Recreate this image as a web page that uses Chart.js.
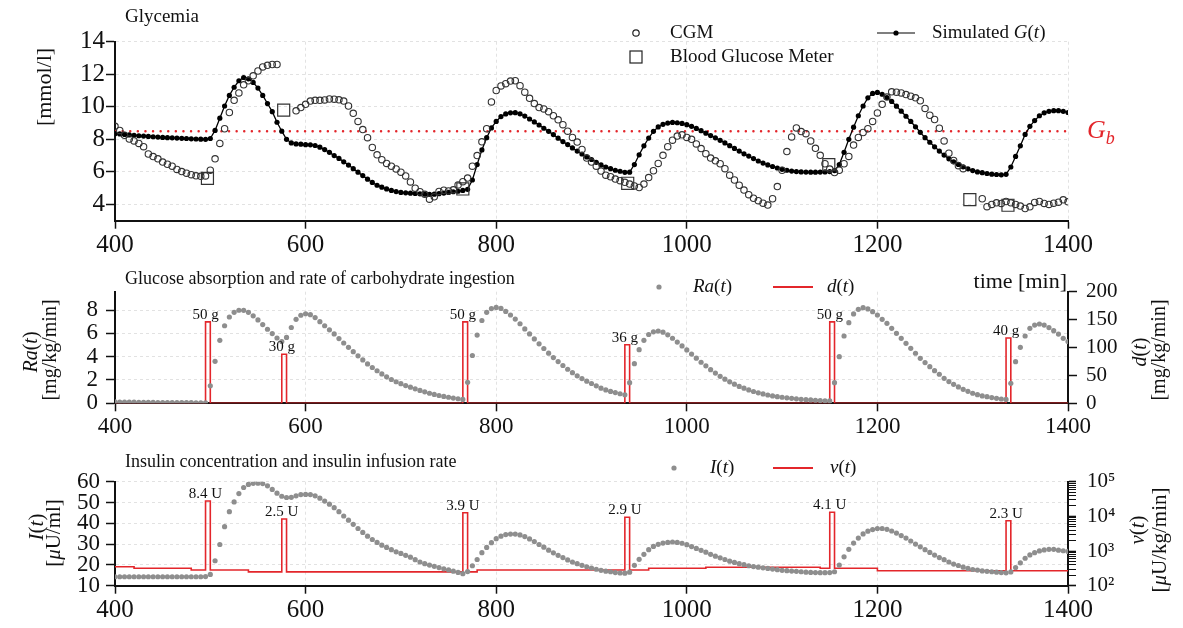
<!DOCTYPE html>
<html>
<head>
<meta charset="utf-8">
<script src="https://cdn.jsdelivr.net/npm/chart.js@4"></script>
<style>
  html, body { margin: 0; padding: 0; background: #fff; }
  #wrap { position: relative; width: 1183px; height: 628px; }
  canvas { position: absolute; left: 0; }
</style>
</head>
<body>
<div id="wrap">
  <canvas id="glyc" width="1183" height="262" style="top:0"></canvas>
  <canvas id="absorb" width="1183" height="172" style="top:262px"></canvas>
  <canvas id="insulin" width="1183" height="194" style="top:434px"></canvas>
</div>
<script>
// time grid of the samples [min]
const tStart = 400, tStep = 5, xMin = 400, xMax = 1400;
const xTicks = [400, 600, 800, 1000, 1200, 1400];

// Glycemia [mmol/l]
const simG = [
  8.35, 8.33, 8.30, 8.27, 8.25, 8.22, 8.20, 8.18, 8.16, 8.14, 8.12, 8.10, 8.09, 8.08, 8.06, 8.05, 8.03, 8.02, 8.01, 8.00,
  8.05, 8.55, 9.30, 10.05, 10.70, 11.20, 11.60, 11.80, 11.72, 11.50, 11.15, 10.70, 10.20, 9.70, 9.05, 8.50, 8.00, 7.78, 7.72, 7.70,
  7.67, 7.66, 7.62, 7.52, 7.37, 7.20, 7.00, 6.83, 6.62, 6.42, 6.20, 5.98, 5.77, 5.55, 5.35, 5.18, 5.06, 4.95, 4.86, 4.79,
  4.74, 4.71, 4.69, 4.67, 4.65, 4.63, 4.62, 4.63, 4.66, 4.70, 4.74, 4.78, 4.81, 4.86, 4.93, 5.50, 6.45, 7.35, 8.10, 8.70,
  9.10, 9.40, 9.56, 9.63, 9.64, 9.57, 9.43, 9.25, 9.07, 8.88, 8.68, 8.49, 8.29, 8.07, 7.86, 7.68, 7.47, 7.28, 7.10, 6.92,
  6.76, 6.59, 6.43, 6.30, 6.20, 6.10, 6.04, 5.97, 5.98, 6.45, 7.05, 7.60, 8.08, 8.49, 8.76, 8.92, 9.00, 9.04, 9.02, 8.98,
  8.90, 8.80, 8.67, 8.53, 8.38, 8.23, 8.09, 7.94, 7.78, 7.61, 7.44, 7.28, 7.11, 6.97, 6.82, 6.67, 6.54, 6.43, 6.33, 6.24,
  6.16, 6.10, 6.05, 6.02, 6.00, 5.99, 5.98, 5.98, 5.99, 6.00, 6.02, 6.08, 6.45, 7.20, 8.00, 8.75, 9.45, 10.05, 10.55, 10.82,
  10.88, 10.77, 10.57, 10.33, 10.04, 9.73, 9.42, 9.10, 8.77, 8.43, 8.10, 7.82, 7.54, 7.28, 7.03, 6.80, 6.62, 6.46, 6.31, 6.19,
  6.08, 6.00, 5.95, 5.90, 5.86, 5.84, 5.82, 5.85, 6.30, 6.95, 7.60, 8.30, 8.80, 9.15, 9.45, 9.63, 9.72, 9.76, 9.76, 9.72,
  9.65
];
const cgm = [
  8.80, 8.55, 8.25, 8.02, 7.90, 7.75, 7.55, 7.10, 6.94, 6.80, 6.60, 6.47, 6.35, 6.15, 6.02, 5.92, 5.83, 5.76, 5.73, 5.75,
  6.10, 6.80, 7.75, 8.65, 9.65, 10.40, 10.85, 11.35, 11.60, 11.90, 12.20, 12.45, 12.55, 12.60, 12.60, null, null, null, 9.75, 9.95,
  10.15, 10.35, 10.40, 10.40, 10.42, 10.48, 10.47, 10.43, 10.35, 10.05, 9.60, 9.10, 8.60, 8.10, 7.50, 7.05, 6.75, 6.52, 6.35, 6.18,
  5.98, 5.75, 5.38, 5.00, 4.78, 4.62, 4.32, 4.47, 4.80, 4.87, 4.83, 4.90, 5.20, 5.40, 5.62, 6.35, 7.00, 7.85, 8.65, 10.30,
  11.00, 11.28, 11.42, 11.58, 11.60, 11.30, 10.90, 10.52, 10.20, 9.95, 9.87, 9.70, 9.45, 9.20, 8.90, 8.50, 8.12, 7.83, 7.38, 6.85,
  6.60, 6.35, 6.05, 5.80, 5.70, 5.56, 5.46, 5.36, 5.25, 5.14, 5.04, 5.25, 5.65, 6.07, 6.52, 7.02, 7.55, 7.95, 8.20, 8.28,
  8.12, 8.00, 7.72, 7.43, 7.12, 6.85, 6.68, 6.50, 6.20, 5.80, 5.50, 5.18, 4.88, 4.60, 4.38, 4.23, 4.08, 3.96, 4.35, 5.10,
  6.10, 7.25, 8.15, 8.70, 8.48, 8.35, 7.90, 7.45, 7.02, 6.50, 6.17, 5.96, 6.10, 6.50, 6.95, 7.65, 8.12, 8.42, 8.65, 9.10,
  9.62, 10.15, 10.60, 10.92, 10.90, 10.85, 10.75, 10.65, 10.55, 10.37, 9.90, 9.48, 9.22, 8.68, 7.90, 7.15, 6.70, 6.38, 6.20, null,
  null, null, 4.35, 3.86, 4.00, 4.10, 4.06, 4.18, 4.10, 4.00, 3.90, 3.75, 3.85, 4.12, 4.18, 4.06, 4.00, 4.08, 4.14, 4.28,
  4.16
];
const bgmTime = [497, 577, 765, 938, 1149, 1297, 1337];
const bgmValue = [5.6, 9.8, 4.95, 5.3, 6.45, 4.3, 3.95];
const Gb = 8.5;
const glyTicks = [4, 6, 8, 10, 12, 14];

// glucose absorption Ra(t) [mg/kg/min] and meals d(t)
const raRate = [
  0.12, 0.11, 0.11, 0.10, 0.10, 0.09, 0.09, 0.08, 0.08, 0.07, 0.07, 0.06, 0.06, 0.06, 0.05, 0.05, 0.05, 0.04, 0.04, 0.04,
  1.50, 3.60, 5.40, 6.65, 7.40, 7.80, 7.98, 7.97, 7.80, 7.50, 7.15, 6.75, 6.35, 5.98, 5.60, 5.30, 5.65, 6.50, 7.20, 7.55,
  7.68, 7.60, 7.35, 7.00, 6.65, 6.30, 5.95, 5.55, 5.17, 4.80, 4.43, 4.07, 3.72, 3.38, 3.07, 2.79, 2.52, 2.27, 2.04, 1.85,
  1.68, 1.52, 1.38, 1.24, 1.10, 0.98, 0.86, 0.76, 0.67, 0.59, 0.52, 0.45, 0.39, 0.33, 1.80, 4.10, 5.85, 7.10, 7.80, 8.12,
  8.22, 8.14, 7.88, 7.57, 7.22, 6.82, 6.38, 5.95, 5.52, 5.10, 4.70, 4.30, 3.92, 3.58, 3.24, 2.92, 2.63, 2.36, 2.12, 1.90,
  1.70, 1.50, 1.30, 1.15, 1.02, 0.92, 0.82, 0.73, 1.77, 3.40, 4.60, 5.40, 5.90, 6.13, 6.20, 6.10, 5.87, 5.58, 5.25, 4.92,
  4.58, 4.22, 3.87, 3.52, 3.21, 2.88, 2.59, 2.31, 2.07, 1.84, 1.64, 1.45, 1.30, 1.15, 1.01, 0.90, 0.80, 0.71, 0.63, 0.57,
  0.52, 0.47, 0.43, 0.38, 0.34, 0.31, 0.29, 0.26, 0.23, 0.21, 0.20, 1.77, 4.00, 5.77, 6.91, 7.66, 8.06, 8.20, 8.09, 7.86,
  7.57, 7.20, 6.86, 6.43, 6.00, 5.57, 5.14, 4.71, 4.29, 3.86, 3.49, 3.14, 2.80, 2.49, 2.14, 1.86, 1.63, 1.40, 1.20, 1.03,
  0.86, 0.74, 0.63, 0.57, 0.49, 0.43, 0.37, 0.33, 1.71, 3.57, 4.80, 5.77, 6.43, 6.71, 6.80, 6.71, 6.49, 6.23, 5.94, 5.57,
  5.29
];
const mealTime = [495, 575, 765, 935, 1150, 1335];
const mealRate = [146, 88, 146, 105, 146, 117];
const mealGrams = ['50 g', '30 g', '50 g', '36 g', '50 g', '40 g'];
const raTicks = [0, 2, 4, 6, 8];
const dTicks = [0, 50, 100, 150, 200];

// insulin I(t) [µU/ml] and infusion v(t) [µU/kg/min]
const insulin = [
  14.3, 14.3, 14.3, 14.3, 14.3, 14.3, 14.3, 14.3, 14.3, 14.3, 14.3, 14.3, 14.3, 14.3, 14.3, 14.3, 14.3, 14.3, 14.3, 14.4,
  15.4, 22.0, 29.8, 38.4, 45.6, 50.3, 54.3, 57.2, 58.7, 59.2, 59.3, 59.1, 58.0, 56.3, 54.5, 53.0, 52.4, 52.5, 53.2, 53.8,
  53.9, 53.8, 53.2, 52.1, 50.7, 49.2, 47.5, 45.6, 43.5, 41.5, 39.5, 37.5, 35.6, 33.8, 32.2, 30.8, 29.5, 28.4, 27.3, 26.3,
  25.5, 24.6, 23.7, 22.5, 21.4, 20.6, 19.9, 19.3, 18.7, 18.1, 17.6, 17.0, 16.4, 15.8, 16.8, 19.6, 22.6, 25.9, 28.4, 30.7,
  32.6, 33.8, 34.6, 34.8, 34.8, 34.4, 33.6, 32.5, 31.2, 29.8, 28.5, 27.1, 25.8, 24.6, 23.5, 22.4, 21.4, 20.6, 19.8, 19.1,
  18.5, 17.9, 17.4, 17.0, 16.7, 16.3, 16.1, 16.0, 16.5, 19.8, 22.7, 25.1, 27.3, 28.9, 29.9, 30.5, 30.8, 31.0, 30.8, 30.4,
  29.7, 28.8, 27.9, 27.0, 26.1, 25.1, 24.2, 23.4, 22.6, 21.8, 21.2, 20.6, 20.1, 19.6, 19.2, 18.9, 18.6, 18.3, 18.0, 17.7,
  17.4, 17.2, 17.05, 16.9, 16.7, 16.5, 16.4, 16.3, 16.25, 16.25, 16.3, 16.7, 19.9, 23.9, 27.5, 30.5, 32.9, 34.9, 36.2, 37.0,
  37.5, 37.5, 37.1, 36.3, 35.3, 34.1, 32.9, 31.5, 30.0, 28.7, 27.3, 26.0, 24.7, 23.5, 22.5, 21.4, 20.4, 19.7, 18.9, 18.3,
  17.8, 17.5, 17.1, 16.9, 16.7, 16.5, 16.3, 16.2, 16.6, 18.7, 21.0, 23.2, 24.8, 25.9, 26.7, 27.2, 27.5, 27.5, 27.1, 26.8,
  26.5
];
const basalTime = [400, 420, 480, 540, 780, 960, 1020, 1140, 1200];
const basalRate = [353, 318, 284, 250, 284, 318, 340, 318, 270];
const bolusTime = [495, 575, 765, 935, 1150, 1335];
const bolusRate = [27700, 8400, 12700, 9400, 13100, 7500];
const bolusUnits = ['8.4 U', '2.5 U', '3.9 U', '2.9 U', '4.1 U', '2.3 U'];
const insTicks = [10, 20, 30, 40, 50, 60];
const logDecades = [100, 1000, 10000];
const logTop = 100000;
const pulseLen = 5;

const serif = '"Liberation Serif", "Times New Roman", serif';
const red = '#e3262b';
const grey = '#8e8e8e';
Chart.defaults.font.family = serif;
Chart.defaults.color = '#111';
Chart.defaults.animation = false;

function series(values) {
  return values.map((v, i) => ({ x: tStart + i * tStep, y: v }));
}
// step function: a basal level with short rectangular pulses on top
function pulses(levelT, levelV, pulseT, pulseV) {
  const level = t => { let v = levelV[0]; levelT.forEach((lt, k) => { if (t >= lt) v = levelV[k]; }); return v; };
  const value = t => { const k = pulseT.findIndex(p => t >= p && t < p + pulseLen); return k >= 0 ? pulseV[k] : level(t); };
  const ts = [...new Set([...levelT, ...pulseT, ...pulseT.map(p => p + pulseLen), xMax])].sort((a, b) => a - b);
  return ts.map(t => ({ x: t, y: value(t) }));
}

// free text, legend markers and value labels
function fontOf(st, size) {
  if (st === 'sub') return 'italic ' + Math.round(size * 0.68) + 'px ' + serif;
  return (st === 'i' ? 'italic ' : '') + size + 'px ' + serif;
}
function drawRuns(ctx, it) {
  const runs = typeof it.text === 'string' ? [[it.text, '']] : it.text;
  let total = 0;
  runs.forEach(([s, st]) => { ctx.font = fontOf(st, it.size); total += ctx.measureText(s).width; });
  ctx.translate(it.x, it.y);
  if (it.rotate) ctx.rotate(-Math.PI / 2);
  let x = it.align === 'center' ? -total / 2 : it.align === 'right' ? -total : 0;
  ctx.fillStyle = it.color || '#111';
  ctx.textBaseline = 'middle';
  ctx.textAlign = 'left';
  runs.forEach(([s, st]) => {
    ctx.font = fontOf(st, it.size);
    ctx.fillText(s, x, st === 'sub' ? it.size * 0.3 : 0);
    x += ctx.measureText(s).width;
  });
}
function drawMarker(ctx, m) {
  ctx.lineWidth = m.lw || 1.2;
  ctx.strokeStyle = m.color || '#222';
  ctx.fillStyle = m.color || '#222';
  if (m.marker === 'circle') {
    ctx.beginPath(); ctx.arc(m.x, m.y, m.r, 0, 2 * Math.PI); ctx.stroke();
  } else if (m.marker === 'square') {
    ctx.strokeRect(m.x - m.r, m.y - m.r, 2 * m.r, 2 * m.r);
  } else if (m.marker === 'dot') {
    ctx.beginPath(); ctx.arc(m.x, m.y, m.r, 0, 2 * Math.PI); ctx.fill();
  } else if (m.marker === 'line') {
    ctx.beginPath(); ctx.moveTo(m.x, m.y); ctx.lineTo(m.x2, m.y); ctx.stroke();
    if (m.r) { ctx.beginPath(); ctx.arc((m.x + m.x2) / 2, m.y, m.r, 0, 2 * Math.PI); ctx.fill(); }
  }
}
const panelText = {
  id: 'panelText',
  afterDraw(chart, args, opts) {
    const ctx = chart.ctx;
    (opts.items || []).forEach(it => {
      ctx.save();
      if (it.marker) drawMarker(ctx, it); else drawRuns(ctx, it);
      ctx.restore();
    });
    if (opts.marks) {
      const xs = chart.scales.x, ys = chart.scales[opts.marks.axis];
      ctx.save();
      ctx.font = '15px ' + serif;
      ctx.fillStyle = '#111';
      ctx.textAlign = 'center';
      ctx.textBaseline = 'alphabetic';
      opts.marks.at.forEach((t, i) => {
        ctx.fillText(opts.marks.text[i], xs.getPixelForValue(t), ys.getPixelForValue(opts.marks.value[i]) - 3);
      });
      ctx.restore();
    }
  }
};
Chart.register(panelText);

function xAxis(height, size, pad) {
  return {
    type: 'linear', min: xMin, max: xMax,
    afterBuildTicks: s => { s.ticks = xTicks.map(v => ({ value: v })); },
    afterFit: s => { s.height = height; },
    grid: { color: '#e2e2e2', tickColor: '#111', tickLength: 8, tickWidth: 1.5 },
    border: { color: '#111', width: 2, dash: [3, 3] },
    ticks: { font: { size: size }, padding: pad, maxRotation: 0, autoSkip: false, callback: v => String(v) }
  };
}
function yAxis(min, max, tickList, size, pad, side, withGrid) {
  return {
    type: 'linear', min: min, max: max, position: side,
    afterBuildTicks: s => { s.ticks = tickList.map(v => ({ value: v })); },
    afterFit: s => { s.width = 115; },
    grid: { color: '#e2e2e2', drawOnChartArea: withGrid, tickColor: '#111', tickLength: 9, tickWidth: 1.5 },
    border: { color: '#111', width: 2, dash: [3, 3] },
    ticks: { font: { size: size }, padding: pad, autoSkip: false, callback: v => String(v) }
  };
}
const baseOpts = (padTop, padRight, scales, plugin) => ({
  responsive: false,
  animation: false,
  layout: { padding: { top: padTop, left: 0, right: padRight, bottom: 0 } },
  scales: scales,
  plugins: { legend: { display: false }, tooltip: { enabled: false }, panelText: plugin }
});

// ---- Glycemia ----
new Chart(document.getElementById('glyc'), {
  type: 'line',
  data: {
    datasets: [
      { data: bgmTime.map((t, i) => ({ x: t, y: bgmValue[i] })), showLine: false, pointStyle: 'rect',
        pointRadius: 8.5, pointBorderColor: '#333', pointBorderWidth: 1.2, pointBackgroundColor: 'rgba(0,0,0,0)' },
      { data: series(cgm), showLine: false, pointRadius: 3.2, pointBorderColor: '#333',
        pointBorderWidth: 1.1, pointBackgroundColor: 'rgba(0,0,0,0)' },
      { data: series(simG), borderColor: '#000', borderWidth: 1.3, pointRadius: 2.6,
        pointBackgroundColor: '#000', pointBorderWidth: 0 },
      { data: [{ x: xMin, y: Gb }, { x: xMax, y: Gb }], borderColor: red, borderWidth: 2.4,
        borderDash: [0.1, 7.5], borderCapStyle: 'round', pointRadius: 0 }
    ]
  },
  options: baseOpts(41.7, 115, { x: xAxis(41.3, 25, 2), y: yAxis(3, 14, glyTicks, 25, 1, 'left', true) }, {
    items: [
      { text: 'Glycemia', x: 125, y: 17, size: 19 },
      { text: '[mmol/l]', x: 45, y: 87, size: 22, rotate: true, align: 'center' },
      { marker: 'circle', x: 636, y: 33, r: 3.2 },
      { text: 'CGM', x: 670, y: 33, size: 19 },
      { marker: 'square', x: 636, y: 57, r: 6 },
      { text: 'Blood Glucose Meter', x: 670, y: 57, size: 19 },
      { marker: 'line', x: 877, x2: 915, y: 33, r: 2.6, color: '#000' },
      { text: [['Simulated ', ''], ['G', 'i'], ['(', ''], ['t', 'i'], [')', '']], x: 932, y: 33, size: 19 },
      { text: [['G', 'i'], ['b', 'sub']], x: 1087, y: 131, size: 26, color: red }
    ]
  })
});

// ---- Glucose absorption ----
new Chart(document.getElementById('absorb'), {
  type: 'line',
  data: {
    datasets: [
      { data: series(raRate), yAxisID: 'y', showLine: false, pointRadius: 2.6,
        pointBackgroundColor: grey, pointBorderWidth: 0 },
      { data: pulses([xMin], [0], mealTime, mealRate), yAxisID: 'y2', stepped: true,
        borderColor: red, borderWidth: 1.6, pointRadius: 0 }
    ]
  },
  options: baseOpts(29.7, 0, {
    x: xAxis(30.7, 23, 2),
    y: yAxis(0, 9.57, raTicks, 23, 8, 'left', true),
    y2: yAxis(0, 200, dTicks, 21, 9, 'right', false)
  }, {
    items: [
      { text: 'Glucose absorption and rate of carbohydrate ingestion', x: 125, y: 17, size: 18 },
      { text: [['Ra', 'i'], ['(', ''], ['t', 'i'], [')', '']], x: 32, y: 90, size: 20, rotate: true, align: 'center' },
      { text: '[mg/kg/min]', x: 51, y: 88, size: 20, rotate: true, align: 'center' },
      { text: [['d', 'i'], ['(', ''], ['t', 'i'], [')', '']], x: 1141, y: 90, size: 20, rotate: true, align: 'center' },
      { text: '[mg/kg/min]', x: 1160, y: 88, size: 20, rotate: true, align: 'center' },
      { marker: 'dot', x: 659, y: 25, r: 2.6, color: grey },
      { text: [['Ra', 'i'], ['(', ''], ['t', 'i'], [')', '']], x: 693, y: 25, size: 19 },
      { marker: 'line', x: 773, x2: 813, y: 25, color: red, lw: 1.8 },
      { text: [['d', 'i'], ['(', ''], ['t', 'i'], [')', '']], x: 827, y: 25, size: 19 },
      { text: 'time [min]', x: 1067, y: 20, size: 22, align: 'right' }
    ],
    marks: { axis: 'y2', at: mealTime, value: mealRate, text: mealGrams }
  })
});

// ---- Insulin ----
const sup = { 2: '\u00b2', 3: '\u00b3', 4: '\u2074', 5: '\u2075' };
const isDecade = v => Math.abs(Math.log10(v) - Math.round(Math.log10(v))) < 1e-9;
const logAxis = {
  type: 'logarithmic', min: 100, max: logTop, position: 'right',
  afterBuildTicks: s => {
    const list = [];
    logDecades.forEach(d => { for (let m = 1; m <= 9; m++) list.push({ value: d * m }); });
    list.push({ value: logTop });
    s.ticks = list;
  },
  afterFit: s => { s.width = 115; },
  grid: { drawOnChartArea: false, tickColor: '#111', tickLength: 8,
    tickWidth: c => (c.tick && isDecade(c.tick.value)) ? 1.6 : 1 },
  border: { color: '#111', width: 2 },
  ticks: {
    font: { size: 21 }, padding: 11, autoSkip: false,
    callback: v => isDecade(v) ? '10' + sup[Math.round(Math.log10(v))] : ''
  }
};
new Chart(document.getElementById('insulin'), {
  type: 'line',
  data: {
    datasets: [
      { data: series(insulin), yAxisID: 'y', showLine: false, pointRadius: 2.6,
        pointBackgroundColor: grey, pointBorderWidth: 0 },
      { data: pulses(basalTime, basalRate, bolusTime, bolusRate), yAxisID: 'y2', stepped: true,
        borderColor: red, borderWidth: 1.6, pointRadius: 0 }
    ]
  },
  options: baseOpts(47.7, 0, {
    x: xAxis(42.3, 25, 2),
    y: yAxis(10, 60, insTicks, 23, 6, 'left', true),
    y2: logAxis
  }, {
    items: [
      { text: 'Insulin concentration and insulin infusion rate', x: 125, y: 28, size: 18 },
      { text: [['I', 'i'], ['(', ''], ['t', 'i'], [')', '']], x: 37, y: 93, size: 21, rotate: true, align: 'center' },
      { text: [['[', ''], ['\u03bc', 'i'], ['U/ml]', '']], x: 54, y: 99, size: 21, rotate: true, align: 'center' },
      { text: [['v', 'i'], ['(', ''], ['t', 'i'], [')', '']], x: 1138, y: 96, size: 21, rotate: true, align: 'center' },
      { text: [['[', ''], ['\u03bc', 'i'], ['U/kg/min]', '']], x: 1160, y: 106, size: 21, rotate: true, align: 'center' },
      { marker: 'dot', x: 674, y: 34, r: 2.6, color: grey },
      { text: [['I', 'i'], ['(', ''], ['t', 'i'], [')', '']], x: 710, y: 34, size: 19 },
      { marker: 'line', x: 773, x2: 813, y: 34, color: red, lw: 1.8 },
      { text: [['v', 'i'], ['(', ''], ['t', 'i'], [')', '']], x: 830, y: 34, size: 19 }
    ],
    marks: { axis: 'y2', at: bolusTime, value: bolusRate, text: bolusUnits }
  })
});
</script>
</body>
</html>
